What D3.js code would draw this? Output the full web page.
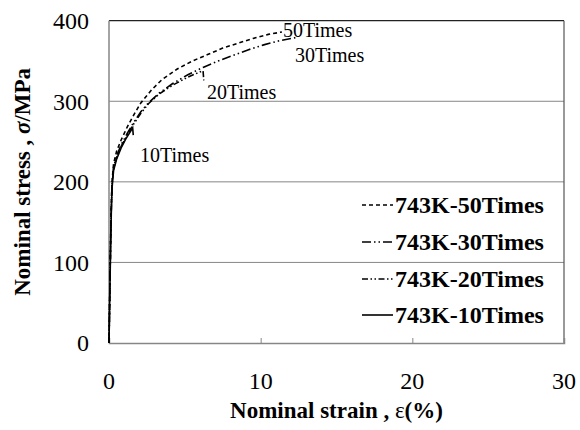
<!DOCTYPE html>
<html>
<head>
<meta charset="utf-8">
<script src="https://cdn.jsdelivr.net/npm/d3@7"></script>
<style>
  body { margin: 0; background: #fff; }
  svg { display: block; font-family: "Liberation Serif", "Times New Roman", serif; }
  .grid line { stroke: #868686; stroke-width: 1; }
  .axis path, .axis line { stroke: #868686; }
</style>
</head>
<body>
<div id="main"></div>
<script>
// strain (%) and stress (MPa)
const strain50 = [0, 0.05, 0.1, 0.15, 0.2, 0.3, 0.5, 0.8, 1.2, 1.6, 2.1, 2.8, 3.5, 4.5, 5.5, 6.5, 7.5, 8.5, 9.5, 10.5, 11.4];
const stress50 = [0, 60, 120, 170, 200, 222, 238, 252, 268, 282, 298, 314, 327, 340, 350, 358, 366, 372, 378, 383, 386];

const strain30 = [0, 0.05, 0.1, 0.15, 0.2, 0.3, 0.5, 0.8, 1.2, 1.6, 2.1, 2.6, 3.3, 4.2, 5.2, 6.2, 7.2, 8.2, 9.2, 10.2, 11.2, 12.3];
const stress30 = [0, 60, 120, 168, 198, 218, 232, 246, 260, 273, 287, 298, 310, 322, 333, 342, 350, 357, 364, 370, 375, 379];

const strain20 = [0, 0.05, 0.1, 0.15, 0.2, 0.3, 0.5, 0.8, 1.2, 1.6, 2.1, 2.6, 3.3, 4.2, 5.2, 6.2, 6.25];
const stress20 = [0, 58, 118, 165, 196, 216, 230, 244, 258, 271, 285, 297, 309, 320, 330, 338, 326];

const strain10 = [0, 0.05, 0.1, 0.15, 0.2, 0.3, 0.5, 0.8, 1.1, 1.4, 1.56, 1.6];
const stress10 = [0, 55, 112, 160, 192, 214, 228, 242, 253, 262, 267, 258];

const seriesNames = ['743K-50Times', '743K-30Times', '743K-20Times', '743K-10Times'];
const dashes = ['4,3', '9,3,1.5,3,1.5,3', '6,2.5,1.5,2.5,1.5,2.5', null];

const noteLabels = ['50Times', '30Times', '20Times', '10Times'];
const noteStrain = [11.47, 12.26, 6.46, 2.04];
const noteStress = [380, 349, 303, 225];

const xTicks = [0, 10, 20, 30];
const yTicks = [0, 100, 200, 300, 400];

const margin = {top: 20.7, right: 16, bottom: 87, left: 109};
const W = 580, H = 430;
const width = W - margin.left - margin.right;
const height = H - margin.top - margin.bottom;

const svg = d3.select('#main').append('svg')
    .attr('width', W)
    .attr('height', H);

const g = svg.append('g')
    .attr('transform', 'translate(' + margin.left + ',' + margin.top + ')');

const x = d3.scaleLinear().domain([0, 30]).range([0, width]);
const y = d3.scaleLinear().domain([0, 400]).range([height, 0]);

// gridlines
g.append('g')
    .attr('class', 'grid')
    .selectAll('line')
    .data(yTicks.slice(1, -1))
    .enter()
    .append('line')
    .attr('x1', 0)
    .attr('x2', width)
    .attr('y1', d => y(d))
    .attr('y2', d => y(d));

// plot frame: top and right darker
g.append('line').attr('x1', 0).attr('x2', width).attr('y1', 0).attr('y2', 0)
    .attr('stroke', '#222').attr('stroke-width', 1.2);
g.append('line').attr('x1', width).attr('x2', width).attr('y1', 0).attr('y2', height)
    .attr('stroke', '#555').attr('stroke-width', 1.2);

// axes
const xAxis = d3.axisBottom(x).tickValues(xTicks).tickSize(-5).tickPadding(0).tickFormat('');
g.append('g')
    .attr('class', 'axis')
    .attr('transform', 'translate(0,' + height + ')')
    .call(xAxis)
    .call(a => a.select('.domain').attr('stroke-width', 1.5));
g.selectAll('.axis .tick')
    .filter(d => d === 0 || d === 30)
    .remove();

g.append('line').attr('x1', 0).attr('x2', 0).attr('y1', 0).attr('y2', height)
    .attr('stroke', '#868686').attr('stroke-width', 1.5);

g.selectAll('.xlab')
    .data(xTicks)
    .enter()
    .append('text')
    .attr('class', 'xlab')
    .attr('x', d => x(d))
    .attr('y', height + 46)
    .attr('text-anchor', 'middle')
    .style('font-size', '24px')
    .text(d => d);

g.selectAll('.ylab')
    .data(yTicks)
    .enter()
    .append('text')
    .attr('class', 'ylab')
    .attr('x', -20)
    .attr('y', d => y(d))
    .attr('dy', '0.35em')
    .attr('text-anchor', 'end')
    .style('font-size', '24px')
    .text(d => d);

// axis titles
const xt = svg.append('text')
    .attr('x', margin.left + width / 2)
    .attr('y', 418)
    .attr('text-anchor', 'middle')
    .style('font-size', '23px')
    .style('font-weight', 'bold');
xt.append('tspan').text('Nominal strain , ');
xt.append('tspan').text('ε').style('font-weight', 'normal');
xt.append('tspan').text('(%)');

const yt = svg.append('text')
    .attr('transform', 'translate(30,' + (margin.top + height / 2) + ') rotate(-90)')
    .attr('text-anchor', 'middle')
    .style('font-size', '23px')
    .style('font-weight', 'bold');
yt.append('tspan').text('Nominal stress , ');
yt.append('tspan').text('σ').style('font-style', 'italic');
yt.append('tspan').text('/MPa');

// curves
const allStrain = [strain50, strain30, strain20, strain10];
const allStress = [stress50, stress30, stress20, stress10];

const line = d3.line()
    .x(d => x(d[0]))
    .y(d => y(d[1]));

allStrain.forEach((s, i) => {
    const pts = s.map((v, j) => [v, allStress[i][j]]);
    g.append('path')
        .datum(pts)
        .attr('d', line)
        .attr('fill', 'none')
        .attr('stroke', '#000')
        .attr('stroke-width', 1.6)
        .attr('stroke-dasharray', dashes[i]);
});

// annotations
noteLabels.forEach((t, i) => {
    g.append('text')
        .attr('x', x(noteStrain[i]))
        .attr('y', y(noteStress[i]))
        .style('font-size', '20px')
        .text(t);
});

// legend
const legendY = [205, 242, 279, 315];
seriesNames.forEach((n, i) => {
    const ly = legendY[i] - margin.top;
    g.append('line')
        .attr('x1', 362 - margin.left)
        .attr('x2', 393 - margin.left)
        .attr('y1', ly)
        .attr('y2', ly)
        .attr('stroke', '#000')
        .attr('stroke-width', 1.6)
        .attr('stroke-dasharray', dashes[i]);
    g.append('text')
        .attr('x', 395 - margin.left)
        .attr('y', ly)
        .attr('dy', '0.35em')
        .style('font-size', '24px')
        .style('font-weight', 'bold')
        .text(n);
});
</script>
</body>
</html>
